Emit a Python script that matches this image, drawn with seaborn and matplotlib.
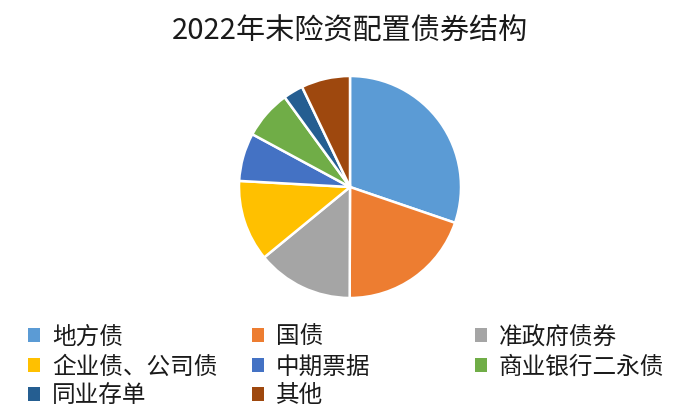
import matplotlib
matplotlib.use("Agg")
import matplotlib.pyplot as plt
import seaborn as sns
from matplotlib.patches import Patch

categories = ["地方债", "国债", "准政府债券", "企业债、公司债", "中期票据", "商业银行二永债", "同业存单", "其他"]
shares = [30.2, 19.8, 14.0, 11.8, 7.0, 7.1, 2.9, 7.1]
colors_hex = ["#5B9BD5", "#ED7D31", "#A5A5A5", "#FFC000", "#4472C4", "#70AD47", "#255E91", "#9E480E"]
title = "2022年末险资配置债券结构"

sns.set_theme(style="white")
plt.rcParams["font.family"] = ["Noto Sans CJK SC", "DejaVu Sans"]
palette = sns.color_palette(colors_hex)

W, H = 700, 420
fig = plt.figure(figsize=(7, 4.2), dpi=100)
fig.patch.set_facecolor("white")

# pie axes: centre (350,187), radius 111 px
cx, cy, r = 350, 187, 111
ax = fig.add_axes([(cx - r) / W, (H - cy - r) / H, 2 * r / W, 2 * r / H])
ax.pie(shares, colors=palette, startangle=90, counterclock=False,
       wedgeprops=dict(edgecolor="white", linewidth=1.8))
ax.set_xlim(-1, 1)
ax.set_ylim(-1, 1)
ax.set_aspect("equal")
ax.axis("off")

fig.text(0.5, 1 - 32 / H, title, ha="center", va="center", fontsize=21, color="#1a1a1a")

# legend, row-major across 3 columns
col_x = [28, 252, 475]
row_y = [337, 367, 396]
fs = 17
sq = 12 / (fs * 100 / 72)
for i, (lab, col) in enumerate(zip(categories, palette)):
    rr, cc = divmod(i, 3)
    lg = fig.legend(handles=[Patch(facecolor=col, edgecolor="none")], labels=[lab],
                    loc="center left",
                    bbox_to_anchor=(col_x[cc] / W, 1 - row_y[rr] / H),
                    frameon=False, fontsize=fs, borderpad=0, borderaxespad=0,
                    handlelength=sq, handleheight=sq, handletextpad=0.5,
                    labelcolor="#1a1a1a")

fig.savefig("out.png", dpi=100, facecolor="white")
